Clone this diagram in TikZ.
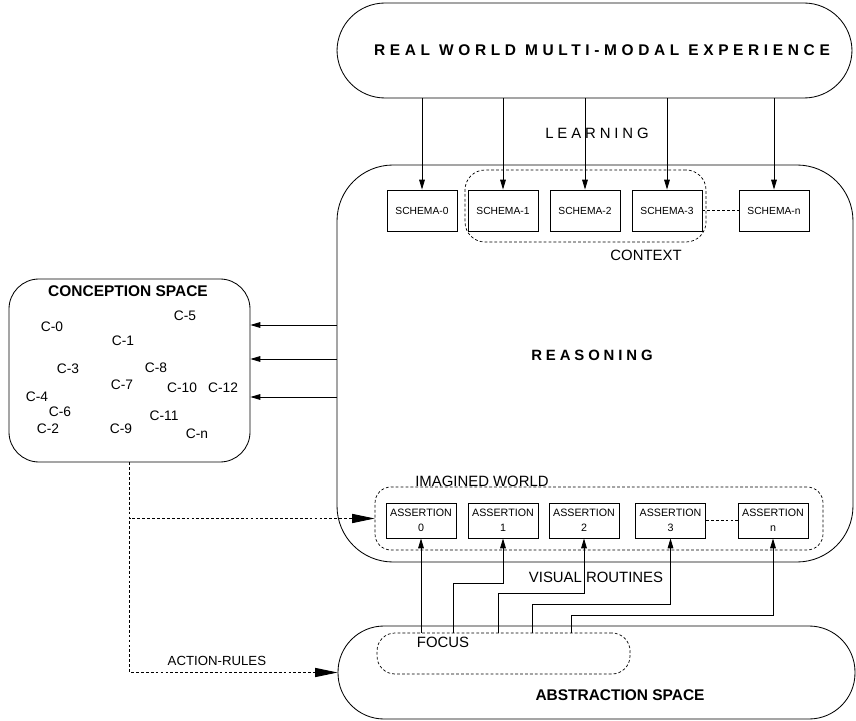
\documentclass[tikz,border=0pt]{standalone}
\usepackage{fontspec}
\setmainfont{Liberation Sans}
\newfontfamily\trackfont[LetterSpace=26]{Liberation Sans}
\newfontfamily\widetrackfont[LetterSpace=30]{Liberation Sans}
\usetikzlibrary{arrows.meta,fit}

\begin{document}
\begin{tikzpicture}[x=0.025cm,y=-0.025cm,
  spacebox/.style={draw,line width=.6pt,inner sep=0pt},
  groupbox/.style={draw,dash pattern=on 2pt off 1.5pt,line width=.5pt,inner sep=0pt},
  groupline/.style={draw,dash pattern=on 2pt off 1.5pt,line width=.5pt},
  schemabox/.style={draw,line width=.6pt,minimum width=1.75cm,minimum height=1.025cm,
    inner sep=0pt,font=\fontsize{7.3}{8}\selectfont},
  assertbox/.style={schemabox,minimum height=.875cm,align=center,
    font=\fontsize{7.6}{10.5}\selectfont},
  tag/.style={font=\fontsize{10.6}{12}\selectfont},
  spacedtag/.style={font=\trackfont\fontsize{10.6}{12}\selectfont},
  headline/.style={font=\trackfont\bfseries\fontsize{10.6}{12}\selectfont},
  spacetitle/.style={font=\bfseries\fontsize{11}{13}\selectfont},
  cname/.style={font=\fontsize{9.8}{11}\selectfont},
  arrow/.style={line width=.6pt,-{Triangle[length=7pt,width=4pt]}},
  dasharrow/.style={line width=.6pt,dash pattern=on 2pt off 1.5pt,
    -{Triangle[length=16pt,width=6.5pt]}}
]
\useasboundingbox (0,0) rectangle (856,721);

% the four spaces
\node[spacebox,rounded corners=1.2cm,fit={(337,3) (852,98)}] (world) {};
\node[spacebox,rounded corners=1.4cm,fit={(337,165) (853,562)}] (reasoning) {};
\node[spacebox,rounded corners=.75cm,fit={(9,279) (250,462)}] (conception) {};
\node[spacebox,rounded corners=1.15cm,fit={(338,626) (855,719)}] (abstraction) {};

\node[font=\widetrackfont\bfseries\fontsize{11}{13}\selectfont] at (602,50)
  {REAL WORLD MULTI-MODAL EXPERIENCE};
\node[spacedtag] at (597,133) {LEARNING};
\node[headline] at (592,355) {REASONING};
\node[spacetitle] at (128,291) {CONCEPTION SPACE};
\node[spacetitle] at (620,695) {ABSTRACTION SPACE};

% dashed groups
\node[groupbox,rounded corners=.5cm,fit={(465,170) (706,242)}] (context) {};
\node[groupbox,rounded corners=.4cm,fit={(375,487) (823,550)}] (imagined) {};
\node[groupbox,rounded corners=.45cm,fit={(377,633) (630,674)}] (focus) {};
\node[tag] at (646,255) {CONTEXT};
\node[tag] at (482,481) {IMAGINED WORLD};
\node[tag] at (443,642) {FOCUS};
\node[tag] at (596,577) {VISUAL ROUTINES};

% schemas
\node[schemabox] (s0) at (422,210.5) {SCHEMA-0};
\node[schemabox] (s1) at (503,210.5) {SCHEMA-1};
\node[schemabox] (s2) at (585,210.5) {SCHEMA-2};
\node[schemabox] (s3) at (667,210.5) {SCHEMA-3};
\node[schemabox] (sn) at (774,210.5) {SCHEMA-n};
\draw[groupline] (s3) -- (sn);

% assertions
\node[assertbox] (a0) at (421,520.5) {ASSERTION\\0};
\node[assertbox] (a1) at (503,520.5) {ASSERTION\\1};
\node[assertbox] (a2) at (584,520.5) {ASSERTION\\2};
\node[assertbox] (a3) at (670.5,520.5) {ASSERTION\\3};
\node[assertbox] (an) at (773,520.5) {ASSERTION\\n};
\draw[groupline] (a3) -- (an);

% concepts
\node[cname] (c0) at (52,327) {C-0};
\node[cname] (c5) at (185,316) {C-5};
\node[cname] (c1) at (123,341) {C-1};
\node[cname] (c3) at (68,369) {C-3};
\node[cname] (c8) at (156,368) {C-8};
\node[cname] (c7) at (122,385) {C-7};
\node[cname] (c10) at (182,388) {C-10};
\node[cname] (c12) at (223,388) {C-12};
\node[cname] (c4) at (37,397) {C-4};
\node[cname] (c6) at (60,412) {C-6};
\node[cname] (c2) at (48,429) {C-2};
\node[cname] (c9) at (121,429) {C-9};
\node[cname] (c11) at (164,416) {C-11};
\node[cname] (cn) at (197,434) {C-n};

% learning
\draw[arrow] (world.south -| s0) -- (s0);
\draw[arrow] (world.south -| s1) -- (s1);
\draw[arrow] (world.south -| s2) -- (s2);
\draw[arrow] (world.south -| s3) -- (s3);
\draw[arrow] (world.south -| sn) -- (sn);

% reasoning to conception
\draw[arrow] (reasoning.west |- 0,325) -- (conception.east |- 0,325);
\draw[arrow] (reasoning.west |- 0,359) -- (conception.east |- 0,359);
\draw[arrow] (reasoning.west |- 0,397) -- (conception.east |- 0,397);

% visual routines
\draw[arrow] (a0.south |- focus.north) -- (a0);
\draw[arrow] (focus.north -| 453,0) |- (a1.south |- 0,583) -- (a1);
\draw[arrow] (focus.north -| 498,0) |- (a2.south |- 0,593) -- (a2);
\draw[arrow] (focus.north -| 532,0) |- (a3.south |- 0,604) -- (a3);
\draw[arrow] (focus.north -| 571,0) |- (an.south |- 0,615) -- (an);

% action rules
\draw[dasharrow] (conception.south) |- (imagined.west);
\draw[dasharrow] (conception.south) |- node[pos=.71,above=1pt,
  font=\fontsize{9.4}{11}\selectfont] {ACTION-RULES} (abstraction.west);
\end{tikzpicture}
\end{document}
